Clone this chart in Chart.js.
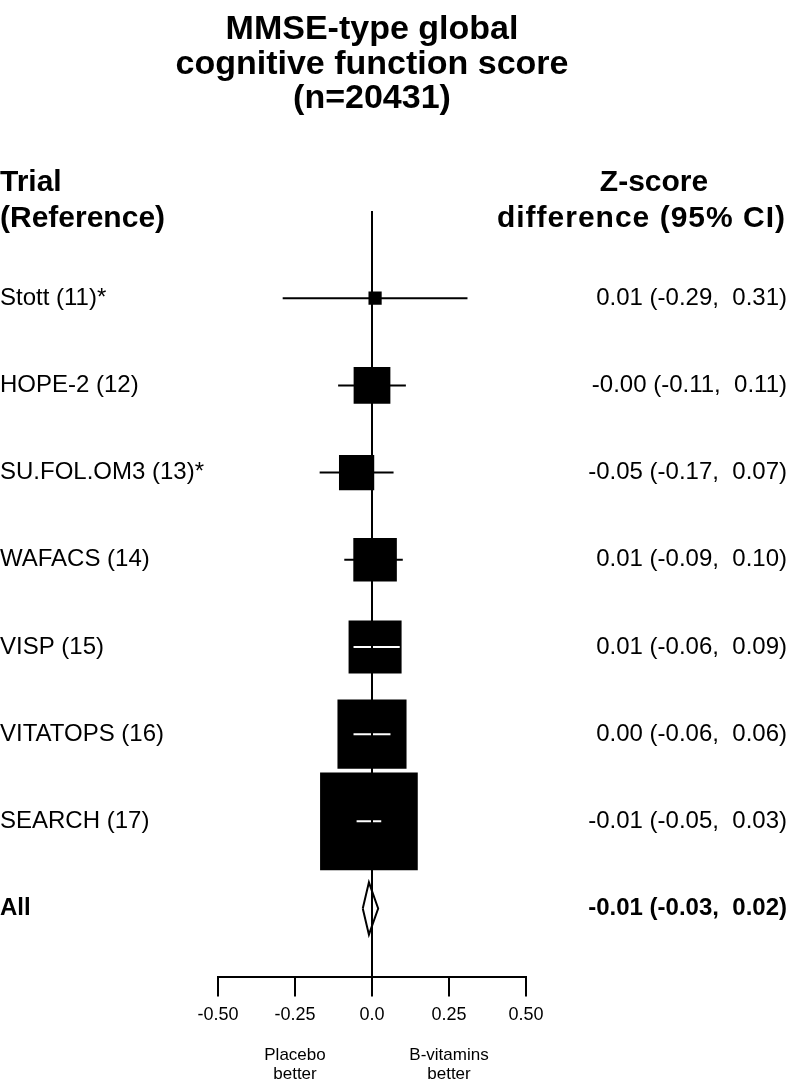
<!DOCTYPE html>
<html>
<head>
<meta charset="utf-8">
<script src="https://cdn.jsdelivr.net/npm/chart.js@4/dist/chart.umd.min.js"></script>
<style>html,body{margin:0;padding:0;background:#fff;}canvas{display:block;}</style>
</head>
<body>
<canvas id="c" width="796" height="1080"></canvas>
<script>
// ---------- data ----------
const titleLines = ['MMSE-type global', 'cognitive function score', '(n=20431)'];
const trials = ['Stott (11)*', 'HOPE-2 (12)', 'SU.FOL.OM3 (13)*', 'WAFACS (14)', 'VISP (15)', 'VITATOPS (16)', 'SEARCH (17)'];
const estimates = [0.01, -0.00, -0.05, 0.01, 0.01, 0.00, -0.01];
const lowerCI = [-0.29, -0.11, -0.17, -0.09, -0.06, -0.06, -0.05];
const upperCI = [0.31, 0.11, 0.07, 0.10, 0.09, 0.06, 0.03];
const weights = [0.8, 6.2, 5.7, 8.7, 12.9, 21.9, 43.8]; // relative weight (%)
const ciText = ['0.01 (-0.29,  0.31)', '-0.00 (-0.11,  0.11)', '-0.05 (-0.17,  0.07)', '0.01 (-0.09,  0.10)', '0.01 (-0.06,  0.09)', '0.00 (-0.06,  0.06)', '-0.01 (-0.05,  0.03)'];
const overallLabel = 'All';
const overallEstimate = [-0.01];
const overallLower = [-0.03];
const overallUpper = [0.02];
const overallText = ['-0.01 (-0.03,  0.02)'];
const xTickValues = [-0.5, -0.25, 0, 0.25, 0.5];
const xTickLabels = ['-0.50', '-0.25', '0.0', '0.25', '0.50'];
const headerLeft = ['Trial', '(Reference)'];
const headerRight = ['Z-score', 'difference (95% CI)'];
const footLeft = ['Placebo', 'better'];
const footRight = ['B-vitamins', 'better'];

// ---------- style constants ----------
const FONT = '"Liberation Sans", Arial, Helvetica, sans-serif';
const BOX_SCALE = 14.76;      // px per sqrt(weight)
const DIAMOND_HALF = 0.3;     // half height of diamond in row units
const Y_MIN = -1, Y_MAX = 7.79;
const overallRow = trials.length;

const datasets = [];
// CI lines (black)
trials.forEach((t, i) => {
  datasets.push({
    showLine: true, data: [{x: lowerCI[i], y: i}, {x: upperCI[i], y: i}],
    borderColor: '#000', borderWidth: 2, pointRadius: 0, order: 5
  });
});
// boxes
datasets.push({
  data: estimates.map((e, i) => ({x: e, y: i})),
  pointStyle: 'rect',
  pointRadius: weights.map(w => Math.sqrt(w) * BOX_SCALE / Math.SQRT2),
  pointBackgroundColor: '#000', backgroundColor: '#000',
  pointBorderWidth: 0, borderWidth: 0, showLine: false, order: 4
});
// white CI segments inside boxes that contain the whole CI
trials.forEach((t, i) => {
  const side = Math.sqrt(weights[i]) * BOX_SCALE;
  datasets.push({
    showLine: true, data: [{x: lowerCI[i], y: i}, {x: upperCI[i], y: i}],
    borderColor: (ctx) => {
      const xs = ctx.chart.scales && ctx.chart.scales.x;
      if (!xs || !xs.width) return 'rgba(0,0,0,0)';
      const w = xs.getPixelForValue(upperCI[i]) - xs.getPixelForValue(lowerCI[i]);
      return w < side ? '#fff' : 'rgba(0,0,0,0)';
    },
    borderWidth: 2, pointRadius: 0, order: 3
  });
});
// overall diamond
datasets.push({
  showLine: true,
  data: [
    {x: overallLower[0], y: overallRow},
    {x: overallEstimate[0], y: overallRow - DIAMOND_HALF},
    {x: overallUpper[0], y: overallRow},
    {x: overallEstimate[0], y: overallRow + DIAMOND_HALF},
    {x: overallLower[0], y: overallRow}
  ],
  borderColor: '#000', borderWidth: 2, pointRadius: 0, fill: false,
  borderJoinStyle: 'miter', order: 2
});
// zero reference line
datasets.push({
  showLine: true, data: [{x: 0, y: Y_MIN}, {x: 0, y: Y_MAX}],
  borderColor: '#000', borderWidth: 2, pointRadius: 0, order: 1
});

function drawText(ctx, s, x, y, font, align, spacing) {
  ctx.font = font;
  ctx.textAlign = align;
  ctx.textBaseline = 'middle';
  ctx.fillStyle = '#000';
  ctx.letterSpacing = spacing || '0px';
  ctx.fillText(s, x, y);
  ctx.letterSpacing = '0px';
}

const textPlugin = {
  id: 'forestText',
  afterDraw(chart) {
    const ctx = chart.ctx;
    const xs = chart.scales.x, ys = chart.scales.y;
    ctx.save();
    const cx = xs.getPixelForValue(0);
    const titleY = [30, 65, 99];
    titleLines.forEach((s, k) => drawText(ctx, s, cx, titleY[k], 'bold 34px ' + FONT, 'center'));
    drawText(ctx, headerLeft[0], 0, 183, 'bold 30px ' + FONT, 'left');
    drawText(ctx, headerLeft[1], 0, 219, 'bold 30px ' + FONT, 'left');
    drawText(ctx, headerRight[0], 654, 183, 'bold 30px ' + FONT, 'center');
    drawText(ctx, headerRight[1], 786, 219, 'bold 30px ' + FONT, 'right', '1px');
    trials.forEach((s, i) => {
      const y = ys.getPixelForValue(i);
      drawText(ctx, s, 0, y, '24px ' + FONT, 'left');
      drawText(ctx, ciText[i], 787, y, '24px ' + FONT, 'right');
    });
    const yo = ys.getPixelForValue(overallRow);
    drawText(ctx, overallLabel, 0, yo, 'bold 24px ' + FONT, 'left');
    drawText(ctx, overallText[0], 787, yo, 'bold 24px ' + FONT, 'right');
    const xl = xs.getPixelForValue(-0.25), xr = xs.getPixelForValue(0.25);
    footLeft.forEach((s, k) => drawText(ctx, s, xl, 1055 + k * 19, '17px ' + FONT, 'center'));
    footRight.forEach((s, k) => drawText(ctx, s, xr, 1055 + k * 19, '17px ' + FONT, 'center'));
    ctx.restore();
  }
};

new Chart(document.getElementById('c'), {
  type: 'scatter',
  data: {datasets},
  options: {
    responsive: false, animation: false, events: [],
    layout: {padding: {left: 218, right: 270, top: 211, bottom: 46}},
    plugins: {legend: {display: false}, tooltip: {enabled: false}, title: {display: false}},
    scales: {
      x: {
        type: 'linear', min: -0.5, max: 0.5,
        afterBuildTicks: (ax) => { ax.ticks = xTickValues.map(v => ({value: v})); },
        ticks: {
          callback: (v, i) => xTickLabels[i],
          font: {family: FONT, size: 18}, color: '#000', padding: 8,
          maxRotation: 0, autoSkip: false
        },
        grid: {drawOnChartArea: false, drawTicks: true, tickLength: 19, color: '#000', lineWidth: 2},
        border: {display: true, color: '#000', width: 2}
      },
      y: {type: 'linear', display: false, min: Y_MIN, max: Y_MAX, reverse: true}
    }
  },
  plugins: [textPlugin]
});
</script>
</body>
</html>
